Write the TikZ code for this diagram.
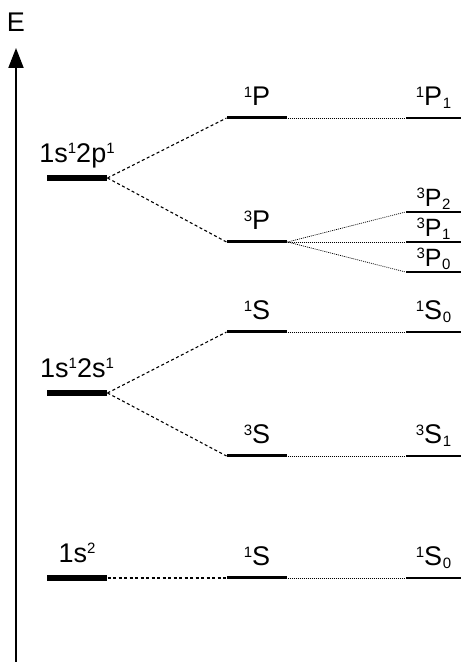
\documentclass[tikz,border=0pt]{standalone}
\usepackage{fontspec}
\setmainfont{Liberation Sans}
\usepackage{tikz}
\usetikzlibrary{arrows.meta, positioning}

\newcommand{\upidx}[1]{\raisebox{8.5pt}{\fontsize{15}{15}\selectfont #1}}
\newcommand{\loidx}[1]{\kern0.5pt\raisebox{-3pt}{\fontsize{15}{15}\selectfont #1}}

\tikzset{
    txt/.style={font=\fontsize{27}{27}\selectfont, inner sep=0pt},
    small/.style={font=\fontsize{25}{25}\selectfont, inner sep=0pt},
    conf/.style={fill=black, minimum width=60pt, minimum height=6pt, inner sep=0pt},
    term/.style={fill=black, minimum width=60pt, minimum height=3pt, inner sep=0pt},
    lvl/.style={fill=black, minimum width=55pt, minimum height=1.3pt, inner sep=0pt},
    split/.style={dash pattern=on 3pt off 2.5pt, line width=1.1pt},
    fine/.style={dash pattern=on 1pt off 1pt, line width=0.7pt}
}

\begin{document}
\begin{tikzpicture}[x=1pt, y=1pt, line width=1pt]
            \useasboundingbox (0,0) rectangle (461,662);

            % Axis
            \coordinate (bot) at (16,0);
            \coordinate (top) at (16,614);
            \draw[-{Triangle[width=15pt,length=20pt]}, line width=2pt] (bot) -- (top);
            \node[txt] (E) at (16,640) {E};

            % Configurations
            \node[conf] (c2p) at (77,484) {};
            \node[conf] (c2s) at (77,269) {};
            \node[conf] (c1s) at (77,84) {};
            \node[txt, anchor=base] (t2p) at ([yshift=12pt]c2p.north) {1s\upidx{1}2p\upidx{1}};
            \node[txt, anchor=base] (t2s) at ([yshift=12pt]c2s.north) {1s\upidx{1}2s\upidx{1}};
            \node[txt, anchor=base] (t1s) at ([yshift=12pt]c1s.north) {1s\upidx{2}};

            % Terms
            \node[term] (m1P) at (257,544) {};
            \node[term] (m3P) at (257,420) {};
            \node[term] (m1S) at (257,330) {};
            \node[term] (m3S) at (257,206) {};
            \node[term] (m1S0) at (257,84) {};
            \node[txt, anchor=base] (n1P) at ([yshift=10pt]m1P.north) {\upidx{1}P};
            \node[txt, anchor=base] (n3P) at ([yshift=10pt]m3P.north) {\upidx{3}P};
            \node[txt, anchor=base] (n1S) at ([yshift=10pt]m1S.north) {\upidx{1}S};
            \node[txt, anchor=base] (n3S) at ([yshift=10pt]m3S.north) {\upidx{3}S};
            \node[txt, anchor=base] (n1S0) at ([yshift=10pt]m1S0.north) {\upidx{1}S};

            % Levels
            \node[lvl] (r1P1) at (433.5,544) {};
            \node[lvl] (r3P2) at (433.5,450) {};
            \node[lvl] (r3P1) at (433.5,420) {};
            \node[lvl] (r3P0) at (433.5,390) {};
            \node[lvl] (r1S0) at (433.5,330) {};
            \node[lvl] (r3S1) at (433.5,206) {};
            \node[lvl] (r1S0g) at (433.5,84) {};
            \node[txt, anchor=base] (k1P1) at ([yshift=11pt]r1P1.north) {\upidx{1}P\loidx{1}};
            \node[small, anchor=base] (k3P2) at ([yshift=4pt]r3P2.north) {\upidx{3}P\loidx{2}};
            \node[small, anchor=base] (k3P1) at ([yshift=4pt]r3P1.north) {\upidx{3}P\loidx{1}};
            \node[small, anchor=base] (k3P0) at ([yshift=4pt]r3P0.north) {\upidx{3}P\loidx{0}};
            \node[txt, anchor=base] (k1S0) at ([yshift=11pt]r1S0.north) {\upidx{1}S\loidx{0}};
            \node[txt, anchor=base] (k3S1) at ([yshift=11pt]r3S1.north) {\upidx{3}S\loidx{1}};
            \node[txt, anchor=base] (k1S0g) at ([yshift=11pt]r1S0g.north) {\upidx{1}S\loidx{0}};

            % Splitting
            \draw[split] (c2p.east) -- (m1P.west);
            \draw[split] (c2p.east) -- (m3P.west);
            \draw[split] (c2s.east) -- (m1S.west);
            \draw[split] (c2s.east) -- (m3S.west);
            \draw[split] (c1s.east) -- (m1S0.west);

            \draw[fine] (m1P.east) -- (r1P1.west);
            \draw[fine] (m3P.east) -- (r3P2.west);
            \draw[fine] (m3P.east) -- (r3P1.west);
            \draw[fine] (m3P.east) -- (r3P0.west);
            \draw[fine] (m1S.east) -- (r1S0.west);
            \draw[fine] (m3S.east) -- (r3S1.west);
            \draw[fine] (m1S0.east) -- (r1S0g.west);
        \end{tikzpicture}
\end{document}
